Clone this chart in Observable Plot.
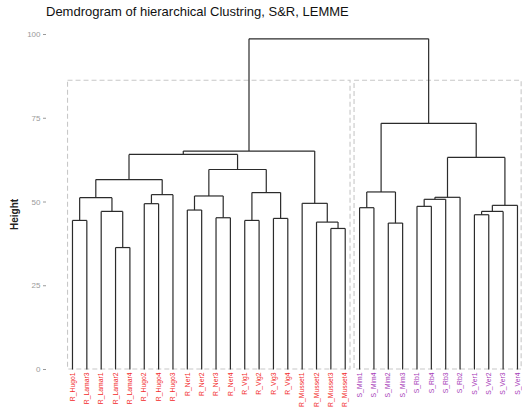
<!DOCTYPE html>
<html>
<head>
<meta charset="utf-8">
<script src="https://cdn.jsdelivr.net/npm/d3@7"></script>
<script src="https://cdn.jsdelivr.net/npm/@observablehq/plot@0.6"></script>
<style>
  html, body { margin: 0; padding: 0; background: #fff; }
  #title { height: 24px; line-height: 24px; padding-left: 46px; font-family: "Liberation Sans", Arial, sans-serif; font-size: 13px; color: #111; white-space: nowrap; }
  svg { display: block; }
</style>
</head>
<body>
<div id="title">Demdrogram of hierarchical Clustring, S&amp;R, LEMME</div>
<div id="chart"></div>
<script>
// Leaves in dendrogram order
const leaves = [
  "R_Hugo1","R_Lamar3","R_Lamar1","R_Lamar2","R_Lamar4","R_Hugo2","R_Hugo4","R_Hugo3",
  "R_Ner1","R_Ner2","R_Ner3","R_Ner4","R_Vig1","R_Vig2","R_Vig3","R_Vig4",
  "R_Musset1","R_Musset2","R_Musset3","R_Musset4",
  "S_Mim1","S_Mim4","S_Mim2","S_Mim3","S_Rb1","S_Rb4","S_Rb3","S_Rb2",
  "S_Ver1","S_Ver2","S_Ver3","S_Ver4"
];
// Merges: [left, right, height]; "mK" refers to the K-th merge
const merges = [
  ["R_Lamar2","R_Lamar4",36.4],   // m0
  ["R_Musset3","R_Musset4",42.1], // m1
  ["S_Mim2","S_Mim3",43.7],       // m2
  ["R_Musset2","m1",44.0],        // m3
  ["R_Hugo1","R_Lamar3",44.5],    // m4
  ["R_Vig1","R_Vig2",44.5],       // m5
  ["R_Vig3","R_Vig4",45.1],       // m6
  ["R_Ner3","R_Ner4",45.3],       // m7
  ["S_Ver1","S_Ver2",46.2],       // m8
  ["R_Lamar1","m0",47.2],         // m9
  ["m8","S_Ver3",47.2],           // m10
  ["R_Ner1","R_Ner2",47.6],       // m11
  ["S_Mim1","S_Mim4",48.3],       // m12
  ["S_Rb1","S_Rb4",48.7],         // m13
  ["m10","S_Ver4",49.0],          // m14
  ["R_Musset1","m3",49.6],        // m15
  ["R_Hugo2","R_Hugo4",49.5],     // m16
  ["m13","S_Rb3",50.8],           // m17
  ["m4","m9",51.3],               // m18
  ["m17","S_Rb2",51.4],           // m19
  ["m11","m7",51.8],              // m20
  ["m16","R_Hugo3",52.2],         // m21
  ["m5","m6",52.8],               // m22
  ["m12","m2",53.0],              // m23
  ["m18","m21",56.7],             // m24
  ["m20","m22",59.7],             // m25
  ["m19","m14",63.3],             // m26
  ["m24","m25",64.2],             // m27
  ["m27","m15",65.2],             // m28
  ["m23","m26",73.5],             // m29
  ["m28","m29",98.7]              // m30
];
// Cluster boxes (k = 2), in leaf-index units
const clusterNames = ["R", "S"];
const clusterFrom = [0.69, 20.65];
const clusterTo = [20.37, 32.29];
const clusterTop = [86.2, 86.2];
const clusterColors = ["#f22a2a", "#a63ab8"];
const yTicks = [0, 25, 50, 75, 100];

// Build segments
const pos = {};
leaves.forEach((n, i) => pos[n] = {x: i + 1, h: 0});
const segs = [];
merges.forEach(([a, b, h], k) => {
  const A = pos[a], B = pos[b];
  segs.push({x1: A.x, y1: A.h, x2: A.x, y2: h});
  segs.push({x1: B.x, y1: B.h, x2: B.x, y2: h});
  segs.push({x1: A.x, y1: h, x2: B.x, y2: h});
  pos["m" + k] = {x: (A.x + B.x) / 2, h};
});
const boxes = clusterNames.map((c, i) => ({c, x1: clusterFrom[i], x2: clusterTo[i], top: clusterTop[i]}));
const leafData = leaves.map((n, i) => ({n, i: i + 1, col: clusterColors[n.startsWith("R") ? 0 : 1]}));

const chart = Plot.plot({
  width: 522,
  height: 383,
  marginLeft: 46,
  marginRight: 0,
  marginTop: 10,
  marginBottom: 38,
  style: {fontFamily: "'Liberation Sans', Arial, sans-serif", background: "#fff"},
  x: {domain: [-0.81, 32.35], axis: null},
  y: {domain: [0, 100], axis: null},
  marks: [
    Plot.rect(boxes, {x1: "x1", x2: "x2", y1: 0, y2: "top", fill: "none", stroke: "#c8c8c8", strokeWidth: 1.1, strokeDasharray: "5,3"}),
    Plot.link(segs, {x1: "x1", y1: "y1", x2: "x2", y2: "y2", stroke: "#2b2b2b", strokeWidth: 1.2}),
    Plot.text(leafData, {x: "i", y: 0, text: "n", rotate: -90, textAnchor: "end", dy: 3, fill: "col", fontSize: 6.8}),
    Plot.axisY({ticks: yTicks, tickSize: 3, tickPadding: 3, fontSize: 8, color: "#9a9a9a", label: null}),
    Plot.text(["Height"], {frameAnchor: "left", rotate: -90, dx: -32, dy: 28, fontSize: 10, fontWeight: "bold", fill: "#222"})
  ]
});
document.getElementById("chart").appendChild(chart);
</script>
</body>
</html>
